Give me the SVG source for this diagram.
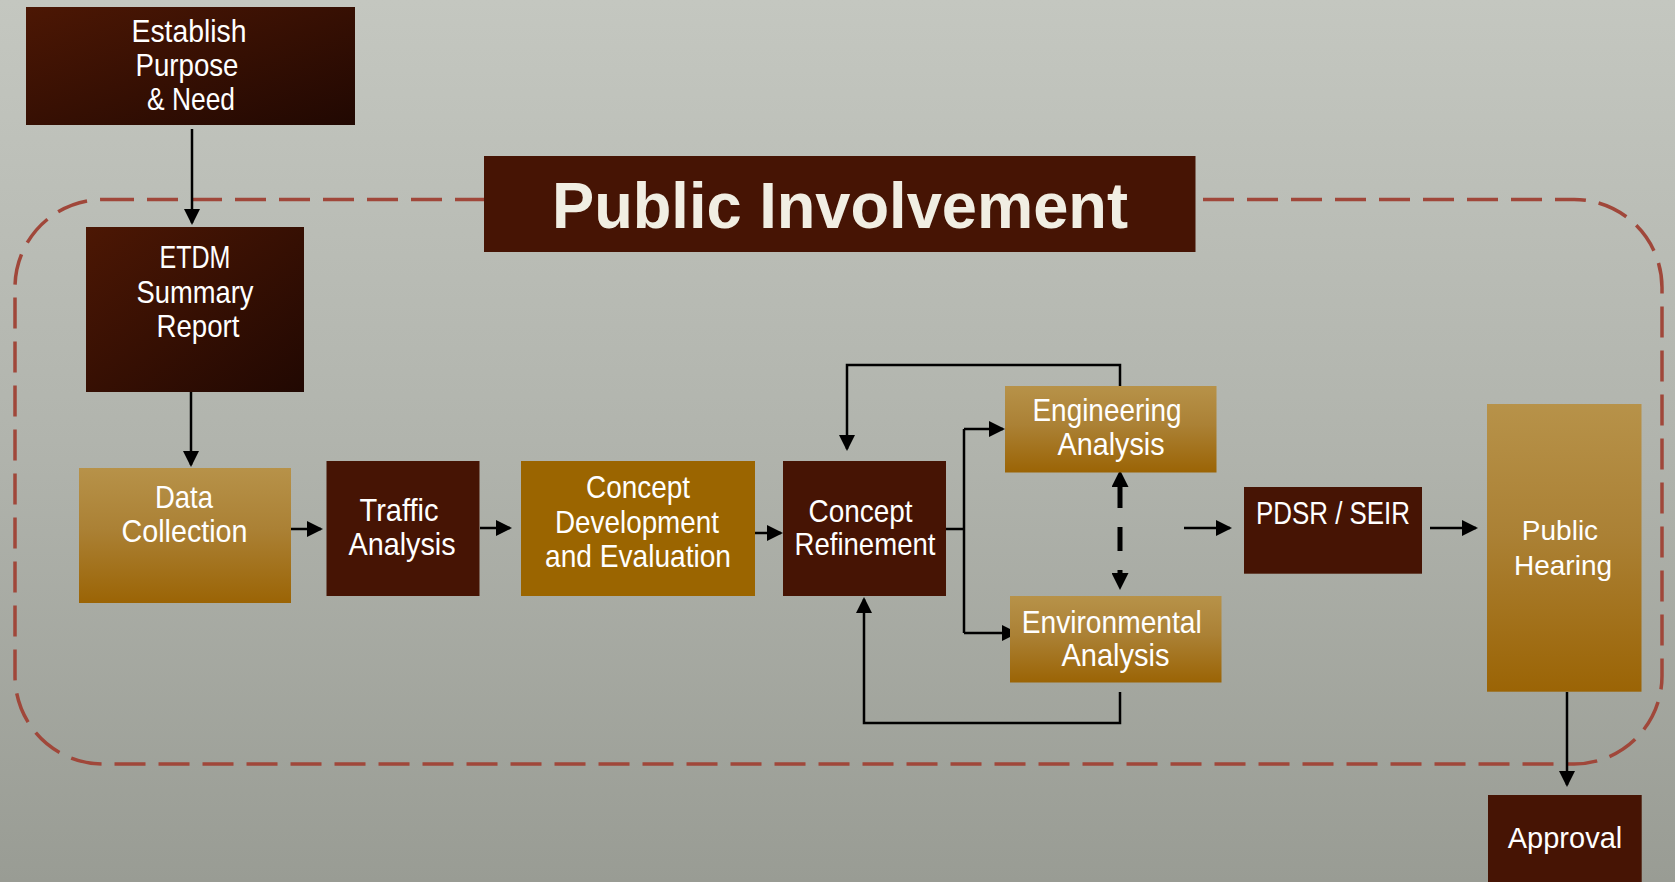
<svg xmlns="http://www.w3.org/2000/svg" width="1675" height="882" viewBox="0 0 1675 882">
<defs>
<linearGradient id="bg" x1="0" y1="0" x2="0" y2="1">
<stop offset="0" stop-color="#c4c7c0"/>
<stop offset="0.5" stop-color="#b1b4ad"/>
<stop offset="1" stop-color="#999c94"/>
</linearGradient>
<linearGradient id="gDark" x1="0" y1="0" x2="1" y2="1">
<stop offset="0" stop-color="#4c1704"/>
<stop offset="1" stop-color="#210802"/>
</linearGradient>
<linearGradient id="gGold" x1="0" y1="0" x2="0" y2="1">
<stop offset="0" stop-color="#b79249"/>
<stop offset="0.45" stop-color="#ab8135"/>
<stop offset="1" stop-color="#9b6405"/>
</linearGradient>
<marker id="ah" markerUnits="userSpaceOnUse" markerWidth="16" markerHeight="16" viewBox="0 0 16 16" refX="14" refY="8" orient="auto">
<path d="M0,0 L16,8 L0,16 z" fill="#000"/>
</marker>
<marker id="ahb" markerUnits="userSpaceOnUse" markerWidth="17" markerHeight="17" viewBox="0 0 17 17" refX="7" refY="8.5" orient="auto-start-reverse">
<path d="M0,0 L17,8.5 L0,17 z" fill="#000"/>
</marker>
<style>
.dk{fill:#461404}
.dkg{fill:url(#gDark)}
.gold{fill:url(#gGold)}
.cdv{fill:#9b6500}
.t{font-family:"Liberation Sans Narrow","Liberation Sans",Arial,sans-serif;font-size:32px;fill:#fff;text-anchor:middle}
.ta{font-family:"Liberation Sans",Arial,sans-serif;fill:#fff;text-anchor:middle}
.conn{stroke:#000;stroke-width:2.5;fill:none}
.frame{fill:none;stroke:#a0473a;stroke-width:3.5;stroke-dasharray:31 13}
</style>
</defs>
<rect x="0" y="0" width="1675" height="882" fill="url(#bg)"/>

<g id="frame">
<rect class="frame" x="15" y="199.5" width="1647" height="564.5" rx="88" ry="88"/>
</g>

<g id="connectors">
<path class="conn" d="M192 129 V223" marker-end="url(#ah)"/>
<path class="conn" d="M191 392 V465" marker-end="url(#ah)"/>
<path class="conn" d="M291 529 H321" marker-end="url(#ah)"/>
<path class="conn" d="M480 528 H510" marker-end="url(#ah)"/>
<path class="conn" d="M755 533 H781" marker-end="url(#ah)"/>
<path class="conn" d="M946 529 H964"/>
<path class="conn" d="M964 429 V633"/>
<path class="conn" d="M964 429 H1003" marker-end="url(#ah)"/>
<path class="conn" d="M964 633 H1016" marker-end="url(#ah)"/>
<path class="conn" d="M1120 386 V365 H847 V449" marker-end="url(#ah)"/>
<path class="conn" d="M1120 692 V723 H864 V599" marker-end="url(#ah)"/>
<path d="M1120 480 V580" stroke="#000" stroke-width="5" fill="none" stroke-dasharray="28 19 24 19" marker-start="url(#ahb)" marker-end="url(#ahb)"/>
<path class="conn" d="M1184 528 H1230" marker-end="url(#ah)"/>
<path class="conn" d="M1430 528 H1476" marker-end="url(#ah)"/>
<path class="conn" d="M1567 692 V785" marker-end="url(#ah)"/>
</g>

<g id="public-involvement">
<rect class="dk" x="484" y="156" width="711.5" height="96"/>
<text x="840" y="228.3" font-family="'Liberation Sans',Arial,sans-serif" font-weight="bold" font-size="65" fill="#f1eee3" text-anchor="middle" textLength="576" lengthAdjust="spacingAndGlyphs">Public Involvement</text>
</g>

<g id="establish">
<rect class="dkg" x="26" y="7" width="329" height="118"/>
<text class="t" x="189" y="42" textLength="115" lengthAdjust="spacingAndGlyphs">Establish</text>
<text class="t" x="187" y="76" textLength="103" lengthAdjust="spacingAndGlyphs">Purpose</text>
<text class="t" x="191" y="110" textLength="88" lengthAdjust="spacingAndGlyphs">&amp; Need</text>
</g>

<g id="etdm">
<rect class="dkg" x="86" y="227" width="218" height="165"/>
<text class="t" x="195" y="268" textLength="71" lengthAdjust="spacingAndGlyphs">ETDM</text>
<text class="t" x="195" y="302.5" textLength="117" lengthAdjust="spacingAndGlyphs">Summary</text>
<text class="t" x="198" y="337" textLength="83" lengthAdjust="spacingAndGlyphs">Report</text>
</g>

<g id="data-collection">
<rect class="gold" x="79" y="468" width="212" height="135"/>
<text class="t" x="184" y="508" textLength="58" lengthAdjust="spacingAndGlyphs">Data</text>
<text class="t" x="184.5" y="541.7" textLength="126" lengthAdjust="spacingAndGlyphs">Collection</text>
</g>

<g id="traffic-analysis">
<rect class="dk" x="326.5" y="461" width="153" height="135"/>
<text class="t" x="399" y="521" textLength="79" lengthAdjust="spacingAndGlyphs">Traffic</text>
<text class="t" x="402" y="555" textLength="107" lengthAdjust="spacingAndGlyphs">Analysis</text>
</g>

<g id="concept-development">
<rect class="cdv" x="521" y="461" width="234" height="135"/>
<text class="t" x="638" y="498" textLength="104" lengthAdjust="spacingAndGlyphs">Concept</text>
<text class="t" x="637" y="532.7" textLength="164" lengthAdjust="spacingAndGlyphs">Development</text>
<text class="t" x="638" y="567" textLength="186" lengthAdjust="spacingAndGlyphs">and Evaluation</text>
</g>

<g id="concept-refinement">
<rect class="dk" x="783" y="461" width="163" height="135"/>
<text class="t" x="860.5" y="521.7" textLength="104" lengthAdjust="spacingAndGlyphs">Concept</text>
<text class="t" x="865" y="555" textLength="141" lengthAdjust="spacingAndGlyphs">Refinement</text>
</g>

<g id="engineering-analysis">
<rect class="gold" x="1005" y="386" width="211.5" height="86.5"/>
<text class="t" x="1107" y="421" textLength="149" lengthAdjust="spacingAndGlyphs">Engineering</text>
<text class="t" x="1111" y="455" textLength="107" lengthAdjust="spacingAndGlyphs">Analysis</text>
</g>

<g id="environmental-analysis">
<rect class="gold" x="1010" y="596" width="211.5" height="86.5"/>
<text class="t" x="1111.7" y="632.7" textLength="180" lengthAdjust="spacingAndGlyphs">Environmental</text>
<text class="t" x="1115.5" y="666" textLength="108" lengthAdjust="spacingAndGlyphs">Analysis</text>
</g>

<g id="pdsr-seir">
<rect class="dk" x="1244" y="487" width="178" height="86.7"/>
<text class="t" x="1333" y="524" font-size="31" style="font-size:31px" textLength="154" lengthAdjust="spacingAndGlyphs">PDSR / SEIR</text>
</g>

<g id="public-hearing">
<rect class="gold" x="1487" y="404" width="154.5" height="287.7"/>
<text class="ta" x="1560" y="540" font-size="28">Public</text>
<text class="ta" x="1563" y="574.5" font-size="28">Hearing</text>
</g>

<g id="approval">
<rect class="dk" x="1488" y="795" width="153.7" height="87"/>
<text class="ta" x="1565" y="847.7" font-size="29">Approval</text>
</g>
</svg>
